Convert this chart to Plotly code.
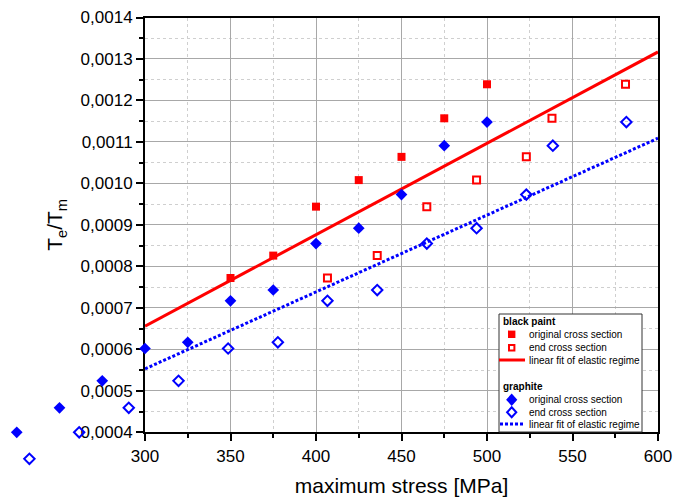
import plotly.graph_objects as go

# ---- data ----
paint_stress = [350, 375, 400, 425, 450, 475, 500]
paint_ratio = [0.000772, 0.000826, 0.000944, 0.001008, 0.001064, 0.001157, 0.001239]
paint_end_stress = [406.7, 435.8, 464.8, 493.9, 523.0, 538.0, 581.0]

graphite_stress = [200, 225, 250, 275, 300, 325, 350, 375, 400, 425, 450, 475, 500]
graphite_ratio = [0.000336, 0.000400, 0.000459, 0.000524, 0.000602, 0.000617, 0.000717,
                  0.000743, 0.000855, 0.000892, 0.000973, 0.001091, 0.001148]
graphite_end_stress = [232.4, 261.5, 290.5, 319.6, 348.6, 377.7, 406.7, 435.8, 464.8,
                       493.9, 523.0, 538.5, 581.5]

fit_stress = [300, 600]
paint_fit = [0.000656, 0.001317]
graphite_fit = [0.000553, 0.001109]

x_range = [300, 600]
y_range = [0.0004, 0.0014]

legend_groups = ["black paint", "graphite"]
legend_labels = ["original cross section", "end cross section", "linear fit of elastic regime"]

# ---- styling / layout ----
W, H = 673, 497
RED = "#FF0000"
BLUE = "#0000FF"
FONT = "Liberation Sans, Arial, sans-serif"

x_dom = [145 / W, 658 / W]
y_dom = [(H - 432.3) / H, (H - 17.5) / H]


def full_range(rng, dom):
    span = (rng[1] - rng[0]) / (dom[1] - dom[0])
    lo = rng[0] - dom[0] * span
    return [lo, lo + span]


fig = go.Figure()

# fit lines on the main axes
fig.add_trace(go.Scatter(x=fit_stress, y=paint_fit, mode="lines",
                         line=dict(color=RED, width=3), showlegend=False))
fig.add_trace(go.Scatter(x=fit_stress, y=graphite_fit, mode="lines",
                         line=dict(color=BLUE, width=3, dash="3px,2px"), showlegend=False))

# markers on an invisible full-page axis pair with the same scale (points may lie outside the frame)
fig.add_trace(go.Scatter(x=paint_stress, y=paint_ratio, mode="markers", xaxis="x2", yaxis="y2",
                         marker=dict(symbol="square", size=8, color=RED), showlegend=False))
fig.add_trace(go.Scatter(x=paint_end_stress, y=paint_ratio, mode="markers", xaxis="x2", yaxis="y2",
                         marker=dict(symbol="square-open", size=7, color=RED, line=dict(width=2, color=RED)),
                         showlegend=False))
fig.add_trace(go.Scatter(x=graphite_stress, y=graphite_ratio, mode="markers", xaxis="x2", yaxis="y2",
                         marker=dict(symbol="diamond", size=9, color=BLUE), showlegend=False))
fig.add_trace(go.Scatter(x=graphite_end_stress, y=graphite_ratio, mode="markers", xaxis="x2", yaxis="y2",
                         marker=dict(symbol="diamond-open", size=8, color=BLUE, line=dict(width=2, color=BLUE)),
                         showlegend=False))

axis_common = dict(
    showline=True, linecolor="black", linewidth=2, mirror=True,
    ticks="outside", ticklen=7, tickwidth=1.5, tickcolor="black",
    showgrid=True, gridcolor="#a8a8a8", gridwidth=1,
    zeroline=False, automargin=False,
    tickfont=dict(size=17, color="black", family=FONT),
)

fig.update_layout(
    xaxis=dict(
        domain=x_dom, range=x_range, dtick=50, tick0=300,
        title=dict(text="maximum stress [MPa]", font=dict(size=21, color="black", family=FONT), standoff=16),
        minor=dict(dtick=25, ticks="outside", ticklen=4, tickcolor="black",
                   showgrid=True, gridcolor="#cfcfcf", griddash="dot", gridwidth=1),
        **axis_common),
    yaxis=dict(
        domain=y_dom, range=y_range, dtick=0.0001, tick0=0.0004, tickformat=".4f",
        title=dict(text="T<sub>e</sub>/T<sub>m</sub>", font=dict(size=21, color="black", family=FONT), standoff=12),
        minor=dict(dtick=0.00005, ticks="outside", ticklen=4, tickcolor="black",
                   showgrid=True, gridcolor="#cfcfcf", griddash="dot", gridwidth=1),
        **axis_common),
    xaxis2=dict(domain=[0, 1], range=full_range(x_range, x_dom), visible=False, anchor="y2",
                automargin=False),
    yaxis2=dict(domain=[0, 1], range=full_range(y_range, y_dom), visible=False, anchor="x2",
                automargin=False),
    width=W, height=H,
    margin=dict(l=0, r=0, t=0, b=0, pad=0, autoexpand=False),
    paper_bgcolor="white", plot_bgcolor="rgba(0,0,0,0)",
    separators=", ",
    font=dict(family=FONT, color="black"),
    showlegend=False,
)


# ---- legend box (drawn as layout shapes + annotations) ----
def px(x):
    return x / W


def py(y):
    return 1 - y / H


shapes = [
    dict(type="rect", xref="paper", yref="paper", x0=px(499), x1=px(642), y0=py(314), y1=py(432),
         line=dict(color="#333333", width=1), fillcolor="white", layer="above"),
    # red filled square
    dict(type="rect", xref="paper", yref="paper", x0=px(508), x1=px(515.4), y0=py(330.6), y1=py(338),
         line=dict(width=0), fillcolor=RED, layer="above"),
    # red open square
    dict(type="rect", xref="paper", yref="paper", x0=px(509), x1=px(514.4), y0=py(345), y1=py(350.4),
         line=dict(color=RED, width=2), fillcolor="white", layer="above"),
    # red line
    dict(type="line", xref="paper", yref="paper", x0=px(499), x1=px(525), y0=py(360), y1=py(360),
         line=dict(color=RED, width=3), layer="above"),
    # blue dotted line
    dict(type="line", xref="paper", yref="paper", x0=px(500), x1=px(524), y0=py(424), y1=py(424),
         line=dict(color=BLUE, width=3, dash="3px,2px"), layer="above"),
]


def diamond(cx, cy, hw, hh):
    return ("M {:.5f},{:.5f} L {:.5f},{:.5f} L {:.5f},{:.5f} L {:.5f},{:.5f} Z".format(
        px(cx), py(cy - hh), px(cx + hw), py(cy), px(cx), py(cy + hh), px(cx - hw), py(cy)))


shapes.append(dict(type="path", xref="paper", yref="paper", path=diamond(511.7, 399.7, 5.6, 6.2),
                   line=dict(width=0), fillcolor=BLUE, layer="above"))
shapes.append(dict(type="path", xref="paper", yref="paper", path=diamond(511.7, 412.3, 4.6, 5.0),
                   line=dict(color=BLUE, width=2), fillcolor="white", layer="above"))

ann_font = dict(size=10, color="black", family=FONT)
annotations = [
    dict(text="<b>" + legend_groups[0] + "</b>", x=px(501), y=py(321.5), xref="paper", yref="paper",
         xanchor="left", yanchor="middle", showarrow=False, font=ann_font),
    dict(text="<b>" + legend_groups[1] + "</b>", x=px(501), y=py(386.5), xref="paper", yref="paper",
         xanchor="left", yanchor="middle", showarrow=False, font=ann_font),
]
for label, ycen in zip(legend_labels * 2, [334.3, 347.7, 360.5, 399.7, 412.3, 424.5]):
    annotations.append(dict(text=label, x=px(526.5), y=py(ycen), xref="paper", yref="paper",
                            xanchor="left", yanchor="middle", showarrow=False, font=ann_font))

fig.update_layout(shapes=shapes, annotations=annotations)

fig.write_html("out.html")
